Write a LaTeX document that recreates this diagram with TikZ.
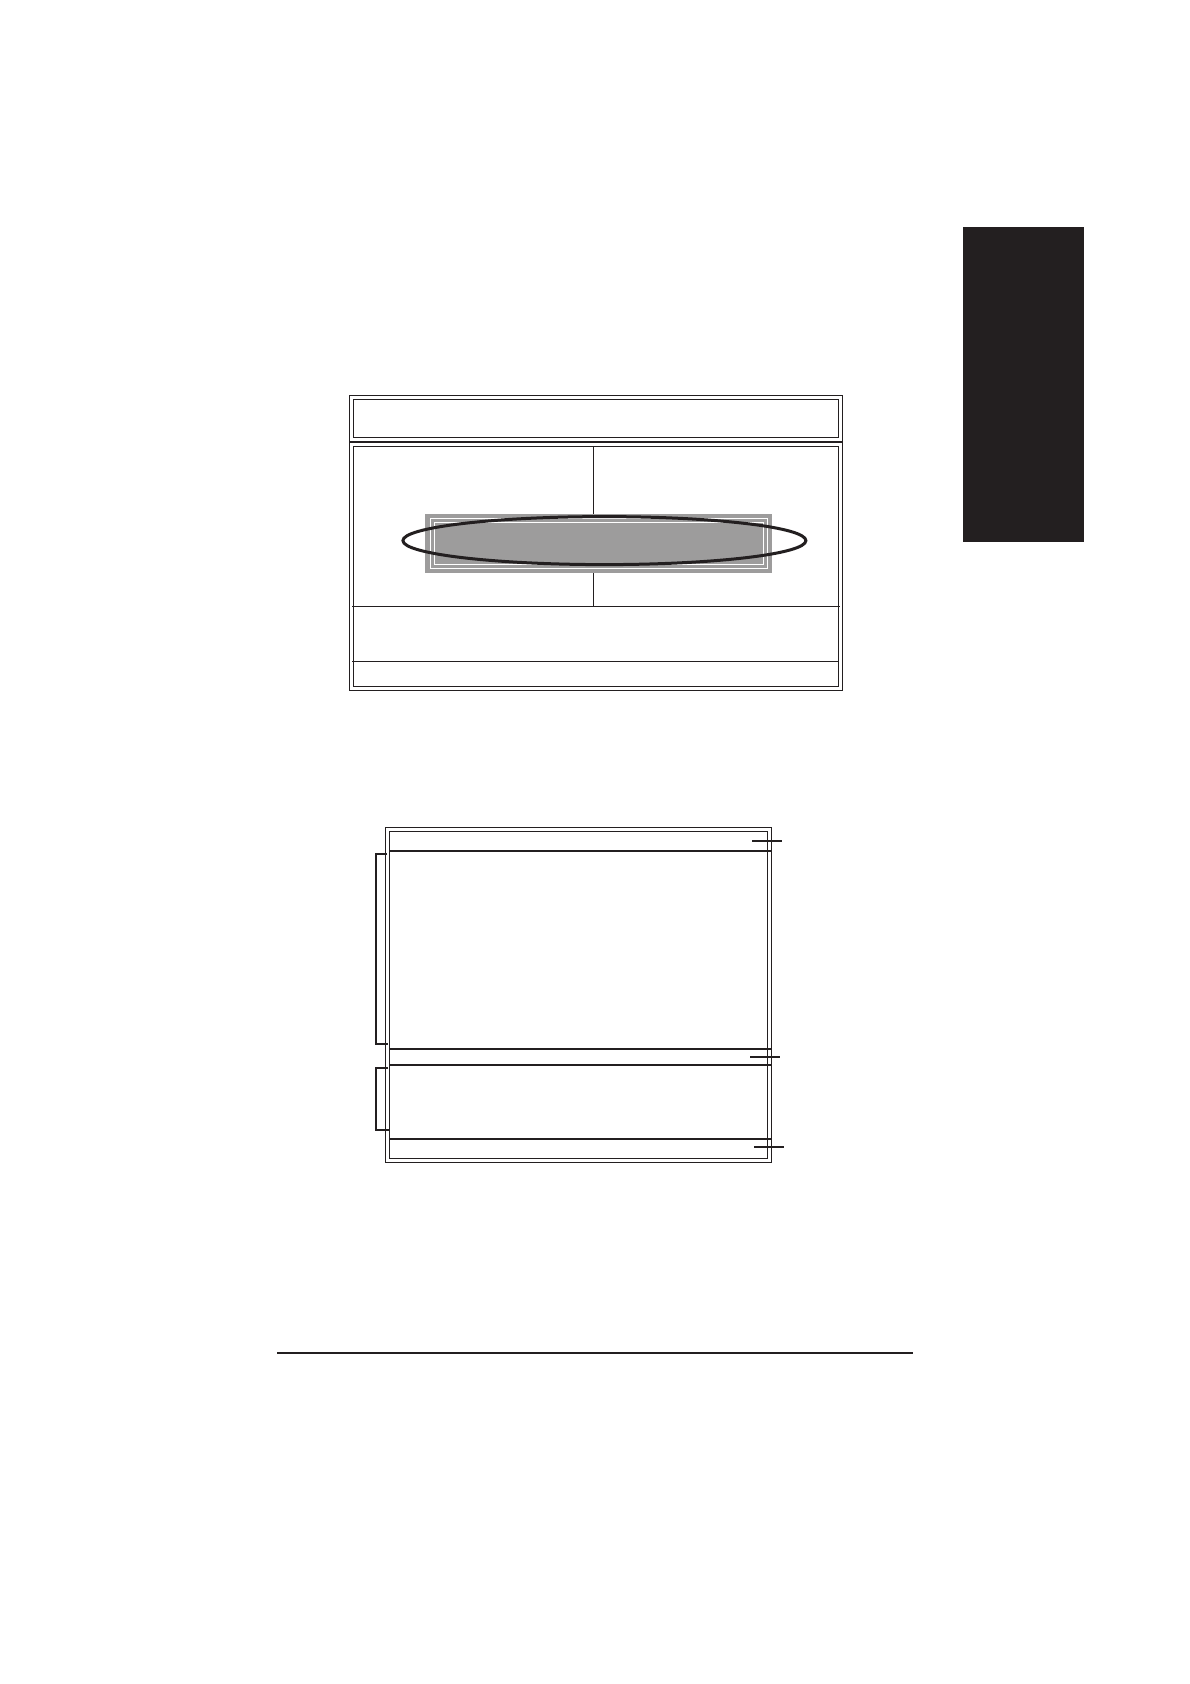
\documentclass[tikz,border=0pt]{standalone}
\usepackage{tikz}
\definecolor{ink}{HTML}{231F20}
\definecolor{panelgray}{HTML}{9D9C9C}
\tikzset{
  thinline/.style={draw=ink, line width=1.2pt},
  thickline/.style={draw=ink, line width=2.3pt},
  midline/.style={draw=ink, line width=1.8pt},
  bracketline/.style={draw=ink, line width=2pt},
  whiteline/.style={draw=white, line width=0.9pt},
  ovalmark/.style={draw=ink, line width=3pt},
}
\begin{document}
\begin{tikzpicture}[x=1pt,y=-1pt]
\useasboundingbox (0,0) rectangle (1190,1684);
\fill[white] (0,0) rectangle (1190,1684);

% side tab
\fill[ink] (963,227) rectangle (1084,542);

% ---- top screen ----
\draw[thinline] (349.3,395.3) rectangle (842.3,690.3);
\draw[thinline] (353.3,399.3) rectangle (838.7,437.3);
\draw[thickline] (349.3,441.7) -- (842.3,441.7);
\draw[thinline] (353.3,446.7) rectangle (838.7,686.3);
\draw[thinline] (593.7,446.7) -- (593.7,606.3);
\draw[thinline] (352.3,606.3) -- (840,606.3);
\draw[thinline] (352.3,661.3) -- (838.7,661.3);
% highlighted bar
\fill[panelgray] (425,514) rectangle (772,572.7);
\draw[whiteline] (430,518.2) rectangle (767.2,568);
\draw[whiteline] (434.5,522) rectangle (763.2,564);
\draw[ovalmark] (604.4,540.6) ellipse [x radius=201.5, y radius=24];

% ---- bottom screen ----
\draw[thinline] (385.3,827.3) rectangle (771.7,1162.3);
\draw[thinline] (389.3,831.3) rectangle (767.7,1158.3);
\draw[midline] (389.3,850.7) -- (771.5,850.7);
\draw[midline] (389.3,1049) -- (771.5,1049);
\draw[midline] (389.3,1065) -- (771.5,1065);
\draw[midline] (389.3,1139) -- (771.5,1139);
% right ticks
\draw[midline] (752,841) -- (782,841);
\draw[midline] (750,1057) -- (780,1057);
\draw[midline] (754,1147) -- (784,1147);
% left brackets
\draw[bracketline] (387,854.3) -- (375.7,854.3) -- (375.7,1044) -- (388,1044);
\draw[bracketline] (388,1068.3) -- (375.7,1068.3) -- (375.7,1130.3) -- (389.3,1130.3);

% footer rule
\draw[draw=ink, line width=1.8pt] (277,1353) -- (913,1353);
\end{tikzpicture}
\end{document}
